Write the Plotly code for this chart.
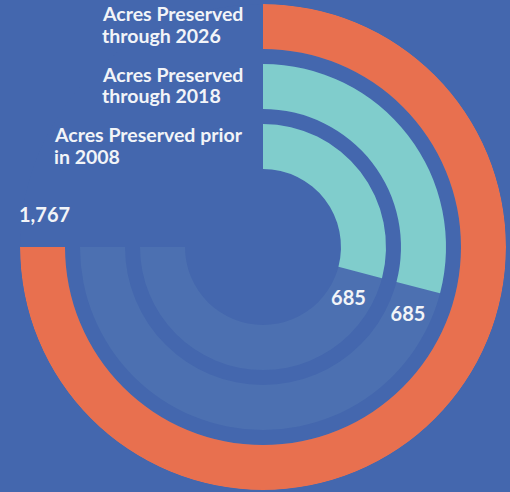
import math
import plotly.graph_objects as go

# Ring data: outermost ring first
ring_titles = [
    ["Acres Preserved", "through 2026"],
    ["Acres Preserved", "through 2018"],
    ["Acres Preserved prior", "in 2008"],
]
acres = [1767, 685, 685]
value_labels = ["1,767", "685", "685"]

# Angular scale: the largest value sweeps three quarters of the circle
SCALE_MAX = 1767
SWEEP_DEG = 270

# Ring geometry (radial axis units = pixels)
RING_INNER = [198, 138, 78]
RING_WIDTH = 45
OUTER_R = 243

BG = "#4467ae"
TRACK = "#4c70b1"
RING_COLORS = ["#e8704f", "#80cdcc", "#80cdcc"]
TEXT = "#f2f4f8"
FONT = "Lato"

W, H = 510, 492
CX, CY = 263, 247  # centre of the rings in pixels from top-left


def to_deg(v):
    return v / SCALE_MAX * SWEEP_DEG


fig = go.Figure()

# Background tracks
for base in RING_INNER:
    fig.add_trace(go.Barpolar(
        r=[RING_WIDTH], base=[base], theta=[SWEEP_DEG / 2], width=[SWEEP_DEG],
        marker=dict(color=TRACK, line=dict(width=0)),
        hoverinfo="skip", showlegend=False,
    ))

# Value arcs
for v, base, col in zip(acres, RING_INNER, RING_COLORS):
    d = to_deg(v)
    fig.add_trace(go.Barpolar(
        r=[RING_WIDTH], base=[base], theta=[d / 2], width=[d],
        marker=dict(color=col, line=dict(width=0)),
        hoverinfo="skip", showlegend=False,
    ))

# Value labels placed just past the end of each arc
lab_r, lab_t = [], []
for v, base in zip(acres, RING_INNER):
    rm = base + RING_WIDTH / 2
    lab_r.append(rm)
    lab_t.append(to_deg(v) + math.degrees(30 / rm))
fig.add_trace(go.Scatterpolar(
    r=lab_r, theta=lab_t, mode="text", text=value_labels,
    textposition="middle center",
    textfont=dict(family=FONT, size=20, color=TEXT, weight=700),
    hoverinfo="skip", showlegend=False,
))

# Ring titles: two left-aligned lines per ring, block sitting left of the arc start
LINE_GAP = 21.5
block_left = [100, 100, 52]
block_mid = [13.5, 74.5, 134.5]
for lines, x0, y0 in zip(ring_titles, block_left, block_mid):
    for i, line in enumerate(lines):
        fig.add_annotation(
            text=line, xref="paper", yref="paper",
            x=x0 / W, y=1 - (y0 + i * LINE_GAP) / H,
            xanchor="left", yanchor="middle", showarrow=False,
            font=dict(family=FONT, size=19.5, color=TEXT, weight=700),
        )

fig.update_layout(
    width=W, height=H,
    margin=dict(l=0, r=0, t=0, b=0),
    paper_bgcolor=BG, plot_bgcolor=BG,
    polar=dict(
        domain=dict(x=[(CX - OUTER_R) / W, (CX + OUTER_R) / W],
                    y=[1 - (CY + OUTER_R) / H, 1 - (CY - OUTER_R) / H]),
        bgcolor=BG,
        barmode="overlay",
        radialaxis=dict(range=[0, OUTER_R], visible=False),
        angularaxis=dict(direction="clockwise", rotation=90, visible=False),
    ),
)

fig.write_html("out.html")
